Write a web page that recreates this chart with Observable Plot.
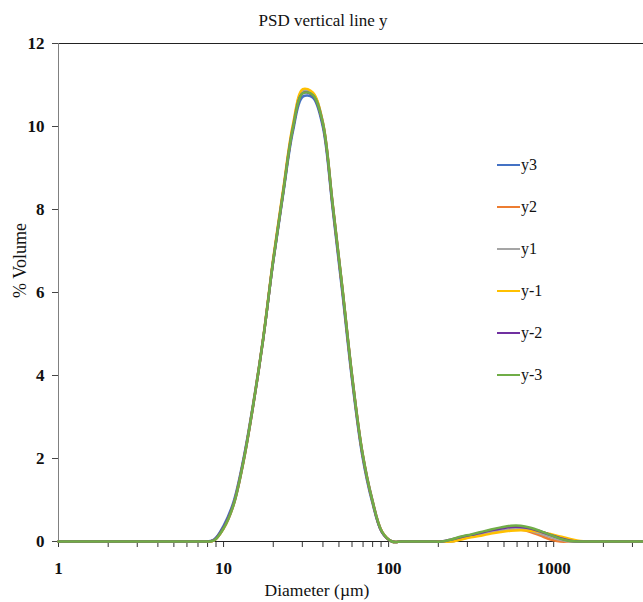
<!DOCTYPE html>
<html>
<head>
<meta charset="utf-8">
<script src="https://cdn.jsdelivr.net/npm/d3@7"></script>
<script src="https://cdn.jsdelivr.net/npm/@observablehq/plot@0.6"></script>
<style>
  html, body { margin: 0; padding: 0; background: #fff; }
  #wrap { position: relative; width: 643px; height: 602px; font-family: "Liberation Serif", "Times New Roman", serif; }
  #legend { position: absolute; left: 0; top: 0; }
  .item { position: absolute; left: 497px; height: 20px; display: flex; align-items: center; font-size: 16px; color: #111; white-space: nowrap; }
  .item span.sw { display: inline-block; width: 23px; height: 2.5px; margin-right: 1px; }
</style>
</head>
<body>
<div id="wrap"><div id="legend"></div></div>
<script>
// Diameter classes (µm)
const diameters = [1, 2, 3, 4, 5, 6, 6.607, 7.586,
  8.71, 10.0, 11.48, 13.18, 15.14, 17.38, 19.95, 22.91, 26.30, 30.20,
  34.67, 39.81, 45.71, 52.48, 60.26, 69.18, 79.43, 91.20,
  104.7, 120.2, 138.0, 158.5, 182.0,
  208.9, 239.9, 275.4, 316.2, 363.1, 416.9, 478.6, 549.5,
  631.0, 724.4, 831.8, 955.0, 1096, 1259, 1445, 1660,
  1905, 2188, 2512, 2884, 3311, 3500];

const seriesNames = ["y3", "y2", "y1", "y-1", "y-2", "y-3"];
const seriesColors = ["#4472C4", "#ED7D31", "#A5A5A5", "#FFC000", "#7030A0", "#70AD47"];

const y3 = [0, 0, 0, 0, 0, 0, 0, 0,
  0.04, 0.38, 0.95, 1.98, 3.34, 4.90, 6.72, 8.34, 9.88, 10.72,
  10.70, 10.02, 8.05, 5.98, 3.84, 2.08, 0.96, 0.22,
  0, 0, 0, 0, 0,
  0, 0.02, 0.09, 0.14, 0.19, 0.25, 0.29, 0.33,
  0.33, 0.30, 0.24, 0.16, 0.08, 0.02, 0, 0,
  0, 0, 0, 0, 0, 0];
const y2 = [0, 0, 0, 0, 0, 0, 0, 0,
  0.02, 0.31, 0.87, 1.90, 3.28, 4.87, 6.75, 8.40, 9.98, 10.84,
  10.78, 10.12, 8.17, 6.10, 3.95, 2.17, 1.02, 0.24,
  0, 0, 0, 0, 0,
  0, 0, 0.07, 0.13, 0.18, 0.23, 0.27, 0.30,
  0.29, 0.23, 0.14, 0.05, 0, 0, 0, 0,
  0, 0, 0, 0, 0, 0];
const y1 = [0, 0, 0, 0, 0, 0, 0, 0,
  0.02, 0.31, 0.87, 1.91, 3.30, 4.89, 6.77, 8.42, 10.00, 10.86,
  10.80, 10.14, 8.18, 6.12, 3.96, 2.18, 1.03, 0.24,
  0, 0, 0, 0, 0,
  0, 0, 0.06, 0.12, 0.17, 0.22, 0.27, 0.30,
  0.30, 0.26, 0.19, 0.11, 0.04, 0, 0, 0,
  0, 0, 0, 0, 0, 0];
const ym1 = [0, 0, 0, 0, 0, 0, 0, 0,
  0.02, 0.32, 0.89, 1.93, 3.32, 4.91, 6.80, 8.46, 10.04, 10.90,
  10.82, 10.12, 8.14, 6.08, 3.92, 2.15, 1.00, 0.23,
  0, 0, 0, 0, 0,
  0, 0, 0.05, 0.10, 0.14, 0.19, 0.23, 0.26,
  0.27, 0.26, 0.23, 0.18, 0.12, 0.06, 0.01, 0,
  0, 0, 0, 0, 0, 0];
const ym2 = [0, 0, 0, 0, 0, 0, 0, 0,
  0.03, 0.34, 0.90, 1.94, 3.30, 4.88, 6.74, 8.38, 9.95, 10.80,
  10.75, 10.08, 8.12, 6.06, 3.91, 2.14, 1.00, 0.22,
  0, 0, 0, 0, 0,
  0, 0.05, 0.11, 0.16, 0.21, 0.27, 0.31, 0.35,
  0.35, 0.31, 0.24, 0.16, 0.08, 0.02, 0, 0,
  0, 0, 0, 0, 0, 0];
const ym3 = [0, 0, 0, 0, 0, 0, 0, 0,
  0.02, 0.32, 0.88, 1.92, 3.30, 4.88, 6.74, 8.38, 9.95, 10.80,
  10.76, 10.10, 8.15, 6.09, 3.93, 2.16, 1.01, 0.23,
  0, 0, 0, 0, 0,
  0, 0.05, 0.12, 0.17, 0.23, 0.29, 0.34, 0.38,
  0.38, 0.33, 0.25, 0.16, 0.07, 0.01, 0, 0,
  0, 0, 0, 0, 0, 0];

const yTicks = [0, 2, 4, 6, 8, 10, 12];
const xMajorTicks = [1, 10, 100, 1000];
const xMinorTicks = [1,2,3,4,5,6,7,8,9,10,20,30,40,50,60,70,80,90,100,200,300,400,500,600,700,800,900,1000,2000,3000];

const title = "PSD vertical line y";
const xLabel = "Diameter (\u00b5m)";
const yLabel = "% Volume";

const allSeries = [y3, y2, y1, ym1, ym2, ym3];
const data = allSeries.flatMap((vals, i) =>
  diameters.map((d, j) => ({d, v: vals[j], name: seriesNames[i]})));

const chart = Plot.plot({
  width: 643,
  height: 602,
  marginLeft: 58,
  marginRight: 0,
  marginTop: 43,
  marginBottom: 61,
  style: {fontFamily: "'Liberation Serif', 'Times New Roman', serif", fontSize: "16px", background: "white", overflow: "visible"},
  x: {type: "log", domain: [1, 3500]},
  y: {domain: [0, 12]},
  color: {domain: seriesNames, range: seriesColors},
  marks: [
    Plot.ruleY([12], {stroke: "#222", strokeWidth: 1}),
    Plot.ruleX([1], {stroke: "#808080", strokeWidth: 1}),
    Plot.axisY(yTicks, {tickSize: 6, tickPadding: 8, fontWeight: "bold", fontSize: 17, label: null, stroke: "#444", color: "#111"}),
    Plot.axisX(xMinorTicks, {tickSize: 6, tickFormat: () => "", label: null, stroke: "#333"}),
    Plot.axisX(xMajorTicks, {tickSize: 0, tickPadding: 20, fontWeight: "bold", fontSize: 17, label: null, tickFormat: d => String(d), color: "#111"}),
    Plot.ruleY([0], {stroke: "#222", strokeWidth: 1}),
    Plot.line(data, {x: "d", y: "v", z: "name", stroke: "name", curve: "catmull-rom", strokeWidth: 2.5}),
    Plot.text([title], {text: d => d, frameAnchor: "top", textAnchor: "middle", lineAnchor: "middle", dx: -28, dy: -23, fontSize: 17, fill: "#111"}),
    Plot.text([xLabel], {text: d => d, frameAnchor: "bottom", textAnchor: "middle", lineAnchor: "middle", dx: -34, dy: 49, fontSize: 17.5, fill: "#111"}),
    Plot.text([yLabel], {text: d => d, frameAnchor: "left", textAnchor: "middle", lineAnchor: "middle", dx: -38, dy: -32, rotate: -90, fontSize: 18, fill: "#111"})
  ]
});

const wrap = document.getElementById("wrap");
wrap.insertBefore(chart, wrap.firstChild);

const legend = document.getElementById("legend");
seriesNames.forEach((n, i) => {
  const it = document.createElement("div");
  it.className = "item";
  it.style.top = (155 + i * 42) + "px";
  const sw = document.createElement("span");
  sw.className = "sw";
  sw.style.background = seriesColors[i];
  it.appendChild(sw);
  it.appendChild(document.createTextNode(n));
  legend.appendChild(it);
});
</script>
</body>
</html>
